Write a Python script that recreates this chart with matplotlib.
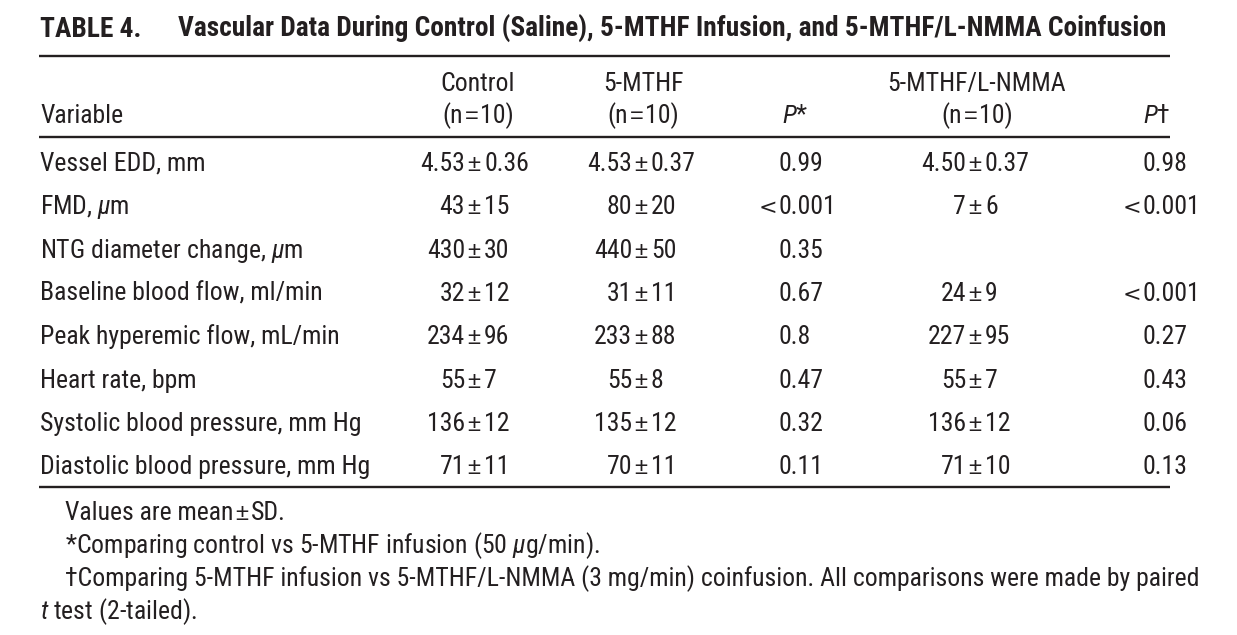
import matplotlib
matplotlib.use("Agg")
import matplotlib.pyplot as plt
from matplotlib import font_manager

# pick a condensed sans if one is installed
names = {f.name for f in font_manager.fontManager.ttflist}
FONT = "DejaVu Sans"
for cand in ["Liberation Sans Narrow", "Roboto Condensed", "Liberation Sans"]:
    if cand in names:
        FONT = cand
        break
SYM = "Liberation Sans" if "Liberation Sans" in names else "DejaVu Sans"
print("font:", FONT, "symbols:", SYM)

plt.rcParams["font.family"] = [FONT, "DejaVu Sans"]
plt.rcParams["mathtext.fontset"] = "custom"
plt.rcParams["mathtext.rm"] = FONT
plt.rcParams["mathtext.it"] = FONT + ":italic"

INK = "#231f20"

title_label = "TABLE 4."
title_text = "Vascular Data During Control (Saline), 5-MTHF Infusion, and 5-MTHF/L-NMMA Coinfusion"

groups = ["Control", "5-MTHF", "5-MTHF/L-NMMA"]
n_per_group = [10, 10, 10]

variables = [
    "Vessel EDD, mm",
    "FMD, $\\mu$m",
    "NTG diameter change, $\\mu$m",
    "Baseline blood flow, ml/min",
    "Peak hyperemic flow, mL/min",
    "Heart rate, bpm",
    "Systolic blood pressure, mm Hg",
    "Diastolic blood pressure, mm Hg",
]
control = [("4.53", "0.36"), ("43", "15"), ("430", "30"), ("32", "12"),
           ("234", "96"), ("55", "7"), ("136", "12"), ("71", "11")]
mthf = [("4.53", "0.37"), ("80", "20"), ("440", "50"), ("31", "11"),
        ("233", "88"), ("55", "8"), ("135", "12"), ("70", "11")]
p_star = ["0.99", "<0.001", "0.35", "0.67", "0.8", "0.47", "0.32", "0.11"]
nmma = [("4.50", "0.37"), ("7", "6"), None, ("24", "9"),
        ("227", "95"), ("55", "7"), ("136", "12"), ("71", "10")]
p_dagger = ["0.98", "<0.001", "", "<0.001", "0.27", "0.43", "0.06", "0.13"]

foot_star = "*Comparing control vs 5-MTHF infusion (50 $\\mu$g/min)."
foot_dagger = ("\u2020Comparing 5-MTHF infusion vs 5-MTHF/L-NMMA (3 mg/min) coinfusion. "
               "All comparisons were made by paired")
foot_last = "$t$ test (2-tailed)."

W, H = 1237, 635
fig = plt.figure(figsize=(W / 100, H / 100), dpi=100)
ax = fig.add_axes([0, 0, 1, 1])
ax.set_xlim(0, W)
ax.set_ylim(H, 0)
ax.axis("off")
renderer = fig.canvas.get_renderer()

FS = 18.5
X0, X1 = 39, 1170


def txt(x, y, s, **kw):
    kw.setdefault("fontsize", FS)
    kw.setdefault("color", INK)
    kw.setdefault("va", "baseline")
    return ax.text(x, y, s, **kw)


def sym(x, y, s, **kw):
    kw.setdefault("family", SYM)
    kw.setdefault("fontsize", 17)
    return txt(x, y, s, **kw)


def runs(x, y, pieces, ha="left"):
    # draw text pieces one after another; pieces = (text, gap_after, kwargs)
    arts = []
    for s, gap, kw in pieces:
        t = txt(0, y, s, **kw)
        w = t.get_window_extent(renderer).width
        arts.append((t, w, gap))
    total = sum(w + g for _, w, g in arts) - arts[-1][2]
    if ha == "center":
        x = x - total / 2
    for t, w, g in arts:
        t.set_x(x)
        x += w + g


def pm(x, y, pair):
    # mean +- sd, lined up on the +- sign
    if pair is None:
        return
    txt(x - 9, y, pair[0], ha="right")
    sym(x, y, "\u00b1", ha="center")
    txt(x + 10, y, pair[1], ha="left")


def pval(x, y, s):
    # p values lined up on the leading zero
    if not s:
        return
    if s.startswith("<"):
        sym(x - 1, y, "<", ha="right", family="DejaVu Sans", fontsize=16)
        s = s[1:]
    txt(x, y, s, ha="left")


# title
txt(40, 37, title_label, fontsize=19.7, fontweight="bold")
txt(178, 37, title_text, fontsize=19.7, fontweight="bold")

# rules
for ry in (56, 137, 487):
    ax.plot([X0, X1], [ry, ry], color=INK, lw=1.7, solid_capstyle="butt")

# header
C_CTRL, C_MTHF, C_NMMA = 474, 641, 975
C_PS, C_PD = 795, 1157
head_x = [C_CTRL + 4, C_MTHF + 2, C_NMMA + 2]
for cx, g, n in zip(head_x, groups, n_per_group):
    txt(cx, 91, g, ha="center")
    runs(cx, 123, [("(n", 2, {}), ("=", 2, {"family": SYM, "fontsize": 17}),
                   (f"{n})", 0, {})], ha="center")
txt(40, 123, "Variable")
txt(C_PS, 123, "$P$*", ha="center")
txt(C_PD, 123, "$P$\u2020", ha="center")

# body
y = 171
for i in range(len(variables)):
    txt(40, y, variables[i])
    pm(C_CTRL, y, control[i])
    pm(C_MTHF, y, mthf[i])
    pval(778, y, p_star[i])
    pm(C_NMMA, y, nmma[i])
    pval(1142, y, p_dagger[i])
    y += 43.3

# footnotes
runs(65, 520, [("Values are mean", 2, {}), ("\u00b1", 2, {"family": SYM, "fontsize": 17}),
               ("SD.", 0, {})])
txt(65, 553, foot_star)
txt(65, 586, foot_dagger)
txt(40, 619, foot_last)

fig.savefig("out.png", dpi=100)
